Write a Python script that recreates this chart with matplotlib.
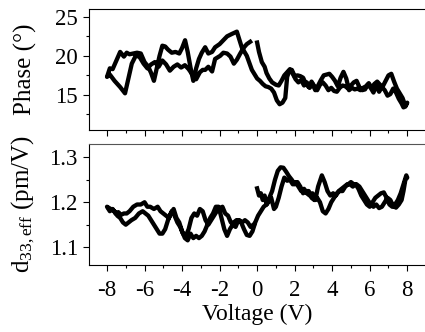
import numpy as np
import matplotlib
matplotlib.use("Agg")
import matplotlib.pyplot as plt
from matplotlib.ticker import MultipleLocator

# Phase loop: 0 -> +8 -> -8 -> ~0 V
phase_up_v = [0.0, 0.1, 0.25, 0.4, 0.5, 0.65, 0.8, 1.0, 1.15, 1.3, 1.45, 1.6, 1.75,
              1.9, 2.05, 2.2, 2.35, 2.5, 2.65, 2.8, 2.95, 3.1, 3.25, 3.4, 3.55, 3.7,
              3.85, 4.0, 4.15, 4.3, 4.45, 4.6, 4.75, 4.9, 5.05, 5.2, 5.35, 5.5, 5.65,
              5.8, 5.95, 6.1, 6.25, 6.4, 6.55, 6.7, 6.85, 7.0, 7.15, 7.3, 7.45, 7.6,
              7.75, 7.9, 8.0]
phase_up = [21.7, 20.5, 19.2, 18.6, 17.8, 17.1, 16.6, 16.3, 16.2, 16.8, 17.5, 17.9, 18.3,
            17.7, 17.0, 16.6, 16.9, 16.2, 16.6, 15.9, 16.4, 15.6, 16.2, 16.9, 17.5, 17.6,
            17.7, 17.3, 16.8, 16.1, 17.2, 17.95, 17.1, 15.6, 15.9, 15.7, 15.8, 15.6, 15.9,
            16.1, 16.5, 15.9, 16.4, 16.7, 16.3, 16.1, 16.8, 17.5, 17.7, 16.7, 15.8, 15.2,
            14.6, 13.6, 14.0]

phase_back_v = [7.9, 7.8, 7.7, 7.55, 7.4, 7.25, 7.1, 6.95, 6.8, 6.65, 6.5, 6.35, 6.2,
                6.05, 5.9, 5.75, 5.6, 5.45, 5.3, 5.15, 5.0, 4.85, 4.7, 4.55, 4.4, 4.25,
                4.1, 3.95, 3.8, 3.65, 3.5, 3.35, 3.2, 3.05, 2.9, 2.75, 2.6, 2.45, 2.3,
                2.15, 2.0, 1.85, 1.7, 1.6, 1.5, 1.35, 1.2, 1.05, 0.9, 0.75, 0.6, 0.45,
                0.3, 0.15, 0.0, -0.28, -0.55, -0.82, -1.08, -1.35, -1.6, -1.8, -2.0,
                -2.24, -2.4, -2.6, -2.77, -2.95, -3.1, -3.25, -3.4, -3.55, -3.7, -3.84,
                -4.0, -4.15, -4.35, -4.55, -4.75, -4.9, -5.05, -5.2, -5.35, -5.5, -5.65,
                -5.8, -6.0, -6.2, -6.4, -6.6, -6.8, -6.95, -7.1, -7.3, -7.5, -7.7, -7.85,
                -8.0]
phase_back = [13.5, 13.4, 13.9, 14.5, 15.3, 15.8, 15.1, 14.9, 15.6, 16.0, 15.4, 16.2, 15.3,
              15.9, 16.3, 15.7, 15.6, 16.0, 16.8, 16.6, 16.2, 15.8, 16.1, 16.2, 15.9, 15.4,
              15.5, 15.9, 15.6, 16.2, 16.6, 16.3, 15.6, 16.1, 16.7, 16.0, 16.4, 17.2, 17.4,
              17.5, 17.4, 18.2, 18.0, 17.3, 14.6, 14.0, 13.8, 14.3, 15.3, 15.8, 16.0, 16.1,
              16.4, 16.8, 17.1, 18.2, 20.0, 21.1, 23.1, 22.8, 22.5, 22.0, 21.5,
              21.1, 20.5, 20.3, 21.1, 20.4, 19.6, 18.4, 16.8, 18.5, 20.5, 22.0,
              21.0, 20.3, 20.5, 20.4, 20.8, 21.2, 21.3, 20.0, 18.4, 16.8, 17.8,
              18.6, 19.2, 20.3, 20.4, 20.3, 20.2, 20.4, 19.9, 20.5, 19.4, 18.3, 18.4,
              17.3]

phase_ret_v = [-7.85, -7.6, -7.3, -7.04, -6.85, -6.68, -6.45, -6.25, -6.05, -5.85, -5.65,
               -5.45, -5.25, -5.05, -4.85, -4.65, -4.45, -4.25, -4.05, -3.85, -3.65, -3.45,
               -3.25, -3.05, -2.9, -2.77, -2.6, -2.4, -2.24, -1.97, -1.8, -1.6, -1.42,
               -1.24, -1.08, -0.9, -0.73, -0.55, -0.37]
phase_ret = [17.6, 16.8, 16.0, 15.2, 17.2, 19.0, 20.1, 19.8, 19.0, 18.4, 18.9,
             19.2, 18.6, 19.4, 18.9, 18.1, 18.6, 18.9, 18.5, 18.8, 18.3, 17.6,
             17.0, 17.9, 18.2, 18.2, 18.6, 18.0, 19.6, 20.0, 20.4, 20.3, 19.9,
             19.0, 19.5, 20.3, 21.0, 21.5, 21.8]

# d33,eff loop, same sweep order
d33_up_v = [0.0, 0.1, 0.2, 0.3, 0.4, 0.5, 0.6, 0.75, 0.9, 1.0, 1.15, 1.3, 1.45, 1.6,
            1.75, 1.9, 2.05, 2.2, 2.35, 2.5, 2.65, 2.8, 2.95, 3.1, 3.25, 3.45, 3.6,
            3.75, 3.9, 4.05, 4.2, 4.35, 4.5, 4.65, 4.8, 4.95, 5.1, 5.25, 5.4, 5.55,
            5.7, 5.85, 6.0, 6.15, 6.3, 6.45, 6.6, 6.75, 6.9, 7.05, 7.2, 7.35, 7.5,
            7.65, 7.8, 7.95, 8.0]
d33_up = [1.231, 1.215, 1.22, 1.205, 1.215, 1.195, 1.2, 1.21, 1.185, 1.19, 1.21, 1.235,
          1.255, 1.248, 1.25, 1.24, 1.245, 1.235, 1.225, 1.23, 1.22, 1.215, 1.22, 1.205,
          1.235, 1.26, 1.245, 1.225, 1.215, 1.22, 1.215, 1.225, 1.23, 1.235, 1.24, 1.24,
          1.235, 1.24, 1.23, 1.215, 1.205, 1.195, 1.19, 1.2, 1.21, 1.215, 1.22, 1.222,
          1.21, 1.195, 1.19, 1.195, 1.205, 1.22, 1.24, 1.26, 1.255]

d33_back_v = [7.9, 7.8, 7.7, 7.55, 7.4, 7.25, 7.1, 6.95, 6.8, 6.65, 6.5, 6.35, 6.2,
              6.05, 5.9, 5.75, 5.6, 5.45, 5.3, 5.15, 5.0, 4.85, 4.7, 4.55, 4.4, 4.25,
              4.1, 3.95, 3.8, 3.65, 3.5, 3.35, 3.2, 3.05, 2.9, 2.75, 2.6, 2.45, 2.3,
              2.15, 2.0, 1.85, 1.7, 1.55, 1.4, 1.25, 1.1, 0.95, 0.8, 0.65, 0.5, 0.35,
              0.2, 0.05, -0.1, -0.25, -0.4, -0.55, -0.7, -0.85, -1.0, -1.15, -1.3,
              -1.45, -1.6, -1.75, -1.9, -2.05, -2.2, -2.35, -2.5, -2.65, -2.8, -2.95,
              -3.1, -3.25, -3.4, -3.55, -3.7, -3.85, -4.0, -4.15, -4.3, -4.45, -4.6,
              -4.75, -4.9, -5.05, -5.2, -5.35, -5.5, -5.65, -5.8, -5.95, -6.1, -6.3,
              -6.5, -6.7, -6.85, -7.0, -7.15, -7.3, -7.45, -7.6, -7.8, -8.0]
d33_back = [1.25, 1.225, 1.205, 1.195, 1.188, 1.192, 1.205, 1.21, 1.2, 1.19, 1.187,
            1.195, 1.19, 1.195, 1.205, 1.215, 1.225, 1.235, 1.24, 1.24, 1.245, 1.24,
            1.235, 1.225, 1.225, 1.22, 1.21, 1.2, 1.185, 1.175, 1.18, 1.2, 1.21, 1.205,
            1.21, 1.225, 1.225, 1.22, 1.235, 1.245, 1.24, 1.25, 1.258, 1.268, 1.277,
            1.278, 1.27, 1.25, 1.225, 1.21, 1.195, 1.19, 1.18, 1.17, 1.155, 1.135,
            1.125, 1.127, 1.14, 1.155, 1.16, 1.145, 1.15, 1.14, 1.125, 1.14, 1.165,
            1.19, 1.19, 1.175, 1.165, 1.15, 1.135, 1.125, 1.12, 1.125, 1.12, 1.13,
            1.115, 1.12, 1.135, 1.155, 1.165, 1.185, 1.175, 1.16, 1.14, 1.13, 1.13,
            1.14, 1.15, 1.16, 1.17, 1.175, 1.18, 1.175, 1.165, 1.16, 1.155, 1.15,
            1.155, 1.165, 1.17, 1.18, 1.185, 1.19]

d33_ret_v = [-7.85, -7.7, -7.55, -7.4, -7.25, -7.1, -6.95, -6.8, -6.6, -6.4, -6.2, -6.0,
             -5.85, -5.7, -5.5, -5.3, -5.15, -5.0, -4.85, -4.7, -4.55, -4.4, -4.25, -4.1,
             -3.95, -3.8, -3.65, -3.5, -3.35, -3.2, -3.05, -2.9, -2.75, -2.6, -2.45,
             -2.3, -2.15, -2.0, -1.85, -1.7, -1.55, -1.4, -1.25, -1.1, -0.95, -0.8,
             -0.65, -0.5, -0.35, -0.2]
d33_ret = [1.18, 1.185, 1.175, 1.178, 1.172, 1.175, 1.175, 1.18, 1.19, 1.195, 1.195, 1.2,
           1.19, 1.19, 1.185, 1.19, 1.18, 1.175, 1.17, 1.165, 1.18, 1.17, 1.155, 1.145,
           1.13, 1.125, 1.14, 1.165, 1.175, 1.17, 1.185, 1.18, 1.16, 1.15, 1.16,
           1.17, 1.18, 1.185, 1.19, 1.175, 1.17, 1.155, 1.155, 1.16, 1.16, 1.155,
           1.16, 1.155, 1.145, 1.15]

plt.rcParams['font.family'] = 'Liberation Serif'
plt.rcParams['mathtext.fontset'] = 'custom'
plt.rcParams['mathtext.rm'] = 'Liberation Serif'
plt.rcParams['mathtext.it'] = 'Liberation Serif:italic'
plt.rcParams['font.size'] = 16.5

fig = plt.figure(figsize=(4.25, 3.32), dpi=100)
ax1 = fig.add_axes([89 / 425, 1 - 130 / 332, 337 / 425, 121 / 332])
ax2 = fig.add_axes([89 / 425, 1 - 265 / 332, 337 / 425, 121 / 332])

phase_v = phase_up_v + phase_back_v + phase_ret_v
phase_all = phase_up + phase_back + phase_ret
d33_v = d33_up_v + d33_back_v + d33_ret_v
d33_all = d33_up + d33_back + d33_ret

ax1.plot(phase_v, phase_all, c='k', lw=3.1, solid_joinstyle='round')
ax2.plot(d33_v, d33_all, c='k', lw=3.1, solid_joinstyle='round')

ax1.set_ylim(10.5, 26)
ax2.set_ylim(1.06, 1.33)
ax1.yaxis.set_major_locator(MultipleLocator(5))
ax1.yaxis.set_minor_locator(MultipleLocator(2.5))
ax2.yaxis.set_major_locator(MultipleLocator(0.1))
ax2.yaxis.set_minor_locator(MultipleLocator(0.05))

for ax in (ax1, ax2):
    ax.set_xlim(-8.96, 9.0)
    ax.xaxis.set_major_locator(MultipleLocator(2))
    ax.xaxis.set_minor_locator(MultipleLocator(1))
    ax.tick_params(which='both', direction='out', top=False, right=False,
                   width=0.8, pad=4)
    ax.tick_params(which='major', length=4)
    ax.tick_params(which='minor', length=2.5)
    ax.tick_params(axis='x', pad=7)
    for s in ax.spines.values():
        s.set_linewidth(0.8)

ax1.tick_params(axis='x', labelbottom=False)
ax2.spines['top'].set_color('#555555')
ax2.set_xticks(np.arange(-8, 9, 2))
ax2.set_xticklabels([str(t) for t in range(-8, 9, 2)])

ax1.set_ylabel('Phase (°)', fontsize=18, labelpad=13)
ax2.set_ylabel('d$_{33,\\mathrm{eff}}$ (pm/V)', fontsize=18, labelpad=9)
ax2.set_xlabel('Voltage (V)', fontsize=17, labelpad=2)

fig.savefig('out.png', dpi=100)
